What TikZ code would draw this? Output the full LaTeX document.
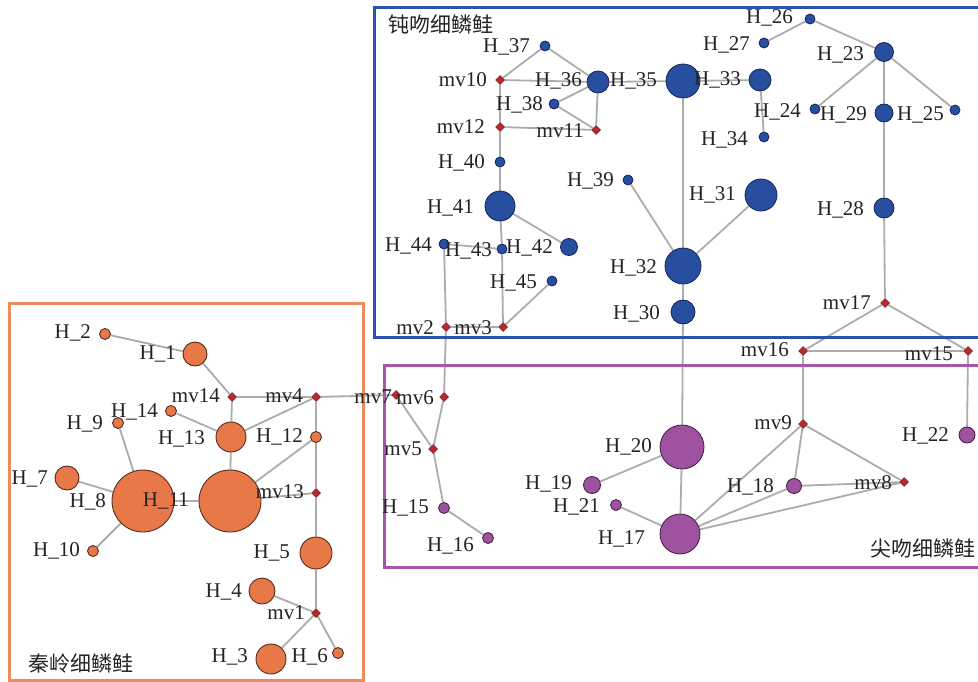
\documentclass[tikz,border=0pt]{standalone}
\usepackage{fontspec}
\setmainfont{Liberation Serif}
\newfontfamily\cjk{Noto Sans CJK SC}
\usetikzlibrary{shapes.geometric}
\pgfdeclarelayer{bg}
\pgfsetlayers{bg,main}
\definecolor{bfill}{RGB}{40,78,160}
\definecolor{bdraw}{RGB}{20,36,90}
\definecolor{ofill}{RGB}{232,120,72}
\definecolor{odraw}{RGB}{85,45,30}
\definecolor{pfill}{RGB}{158,82,160}
\definecolor{pdraw}{RGB}{60,30,60}
\definecolor{mfill}{RGB}{185,40,45}
\definecolor{mdraw}{RGB}{100,20,25}
\definecolor{edgec}{RGB}{172,172,172}
\definecolor{boxb}{RGB}{42,82,170}
\definecolor{boxo}{RGB}{236,140,92}
\definecolor{boxp}{RGB}{168,86,172}
\definecolor{txt}{RGB}{35,35,35}
\newcommand\hb[4]{\node[bnode,minimum size=#4pt] (#1) at (#2,#3) {};}
\newcommand\ho[4]{\node[onode,minimum size=#4pt] (#1) at (#2,#3) {};}
\newcommand\hp[4]{\node[pnode,minimum size=#4pt] (#1) at (#2,#3) {};}
\newcommand\mvn[3]{\node[mvnode] (#1) at (#2,#3) {};}
\newcommand\lab[4]{\node[lab] (#1) at (#2,#3) {#4};}
\begin{document}
\begin{tikzpicture}[x=1pt,y=-1pt,
  bnode/.style={circle,inner sep=0pt,fill=bfill,draw=bdraw,line width=0.8pt},
  onode/.style={circle,inner sep=0pt,fill=ofill,draw=odraw,line width=0.9pt},
  pnode/.style={circle,inner sep=0pt,fill=pfill,draw=pdraw,line width=0.8pt},
  mvnode/.style={diamond,inner sep=0pt,minimum size=9pt,fill=mfill,draw=mdraw,line width=0.5pt},
  lab/.style={anchor=east,inner sep=0pt,text=txt,font=\fontsize{21}{24}\selectfont},
  cjklab/.style={anchor=west,inner sep=0pt,text=txt,font=\cjk\fontsize{21}{24}\selectfont},
  edge/.style={draw=edgec,line width=1.8pt},
  boxline/.style={line width=3pt}]
\useasboundingbox (0,0) rectangle (978,682);
% boxes
\draw[boxline,draw=boxb] (981,8) -- (374,8) -- (374,337) -- (981,337);
\draw[boxline,draw=boxp] (981,365) -- (384,365) -- (384,567) -- (981,567);
\draw[boxline,draw=boxo] (9,303) rectangle (363,680);
% blue haplotypes
\hb{H26}{810}{19}{10}
\hb{H27}{764}{43}{10}
\hb{H23}{884}{52}{19}
\hb{H33}{760}{80}{22}
\hb{H35}{683}{81}{34}
\hb{H24}{815}{109}{10}
\hb{H29}{884}{113}{18}
\hb{H25}{955}{110}{10}
\hb{H34}{764}{137}{10}
\hb{H31}{761}{195}{32}
\hb{H28}{884}{208}{20}
\hb{H32}{683}{266}{36}
\hb{H30}{683}{312}{24}
\hb{H37}{545}{46}{10}
\hb{H36}{598}{82}{22}
\hb{H38}{554}{104}{10}
\hb{H40}{500}{162}{10}
\hb{H39}{628}{180}{10}
\hb{H41}{500}{206}{30}
\hb{H44}{444}{244}{10}
\hb{H43}{502}{249}{10}
\hb{H42}{569}{247}{17}
\hb{H45}{552}{281}{10}
% median vectors
\mvn{mv17}{885}{303}
\mvn{mv16}{803}{351}
\mvn{mv15}{968}{351}
\mvn{mv10}{500}{80}
\mvn{mv12}{500}{127}
\mvn{mv11}{596}{130}
\mvn{mv2}{446}{327}
\mvn{mv3}{503}{327}
\mvn{mv7}{396}{395}
\mvn{mv6}{444}{397}
\mvn{mv5}{433}{449}
\mvn{mv9}{803}{424}
\mvn{mv8}{904}{482}
\mvn{mv14}{232}{397}
\mvn{mv4}{316}{397}
\mvn{mv13}{316}{493}
\mvn{mv1}{316}{613}
% purple haplotypes
\hp{H15}{444}{508}{11}
\hp{H16}{488}{538}{11}
\hp{H19}{592}{485}{17}
\hp{H21}{616}{505}{11}
\hp{H20}{682}{447}{44}
\hp{H17}{680}{534}{40}
\hp{H18}{794}{486}{15}
\hp{H22}{967}{435}{16}
% orange haplotypes
\ho{H2}{105}{334}{11}
\ho{H1}{195}{354}{24}
\ho{H14}{171}{411}{11}
\ho{H9}{118}{423}{11}
\ho{H13}{231}{437}{30}
\ho{H12}{316}{437}{11}
\ho{H7}{67}{478}{24}
\ho{H8}{143}{501}{62}
\ho{H11}{230}{501}{62}
\ho{H10}{93}{551}{11}
\ho{H5}{316}{553}{32}
\ho{H4}{262}{591}{26}
\ho{H3}{271}{659}{30}
\ho{H6}{338}{653}{11}
% edges
\begin{pgfonlayer}{bg}
\path[edge] (H26) -- (H27) (H26) -- (H23) (H23) -- (H24) (H23) -- (H29) (H23) -- (H25)
  (H29) -- (H28) (H28) -- (mv17) (mv17) -- (mv16) (mv17) -- (mv15) (mv16) -- (mv15)
  (H33) -- (H35) (H33) -- (H34) (H35) -- (H36) (H35) -- (H32) (H32) -- (H31)
  (H32) -- (H39) (H32) -- (H30) (H30) -- (H20)
  (H37) -- (mv10) (H37) -- (H36) (mv10) -- (H36) (H36) -- (H38) (H36) -- (mv11)
  (H38) -- (mv11) (mv11) -- (mv12) (mv10) -- (mv12) (mv12) -- (H40) (H40) -- (H41)
  (H41) -- (H43) (H41) -- (H42) (H43) -- (H44) (H44) -- (mv2) (H43) -- (mv3)
  (mv3) -- (H45) (mv2) -- (mv3) (mv2) -- (mv6)
  (mv4) -- (mv7) (mv7) -- (mv5) (mv6) -- (mv5) (mv5) -- (H15) (H15) -- (H16)
  (mv16) -- (mv9) (mv15) -- (H22) (mv9) -- (H18) (mv9) -- (mv8) (mv9) -- (H17)
  (H18) -- (mv8) (H17) -- (H18) (H17) -- (mv8) (H20) -- (H17) (H20) -- (H19) (H17) -- (H21)
  (H2) -- (H1) (H1) -- (mv14) (mv14) -- (mv4) (mv14) -- (H13) (mv4) -- (H13)
  (mv4) -- (H12) (H14) -- (H13) (H13) -- (H11) (H12) -- (H11) (H12) -- (mv13)
  (mv13) -- (H11) (H9) -- (H8) (H7) -- (H8) (H8) -- (H11) (H8) -- (H10)
  (mv13) -- (H5) (H5) -- (mv1) (H4) -- (mv1) (mv1) -- (H3) (mv1) -- (H6);
\end{pgfonlayer}
% labels
\lab{lH26}{793}{18}{H\_26}
\lab{lH27}{750}{45}{H\_27}
\lab{lH23}{864}{55}{H\_23}
\lab{lH33}{741}{80}{H\_33}
\lab{lH35}{657}{81}{H\_35}
\lab{lH36}{582}{81}{H\_36}
\lab{lH37}{530}{47}{H\_37}
\lab{lmv10}{487}{80}{mv10}
\lab{lH38}{543}{105}{H\_38}
\lab{lmv12}{485}{127}{mv12}
\lab{lmv11}{584}{131}{mv11}
\lab{lH40}{485}{163}{H\_40}
\lab{lH39}{614}{181}{H\_39}
\lab{lH24}{801}{112}{H\_24}
\lab{lH29}{867}{115}{H\_29}
\lab{lH25}{944}{115}{H\_25}
\lab{lH34}{748}{140}{H\_34}
\lab{lH31}{736}{195}{H\_31}
\lab{lH28}{864}{210}{H\_28}
\lab{lH41}{474}{208}{H\_41}
\lab{lH44}{432}{246}{H\_44}
\lab{lH43}{492}{251}{H\_43}
\lab{lH42}{553}{248}{H\_42}
\lab{lH45}{537}{283}{H\_45}
\lab{lH32}{657}{268}{H\_32}
\lab{lH30}{660}{314}{H\_30}
\lab{lmv2}{434}{328}{mv2}
\lab{lmv3}{492}{328}{mv3}
\lab{lmv17}{871}{303}{mv17}
\lab{lmv16}{789}{350}{mv16}
\lab{lmv15}{953}{354}{mv15}
\lab{lmv7}{392}{397}{mv7}
\lab{lmv6}{434}{398}{mv6}
\lab{lmv5}{422}{449}{mv5}
\lab{lH15}{429}{508}{H\_15}
\lab{lH16}{474}{546}{H\_16}
\lab{lH20}{652}{447}{H\_20}
\lab{lH19}{572}{484}{H\_19}
\lab{lH21}{600}{507}{H\_21}
\lab{lH17}{645}{539}{H\_17}
\lab{lmv9}{792}{423}{mv9}
\lab{lH18}{774}{487}{H\_18}
\lab{lmv8}{892}{483}{mv8}
\lab{lH22}{949}{436}{H\_22}
\lab{lH2}{91}{333}{H\_2}
\lab{lH1}{176}{354}{H\_1}
\lab{lmv14}{220}{396}{mv14}
\lab{lmv4}{303}{396}{mv4}
\lab{lH14}{158}{412}{H\_14}
\lab{lH9}{103}{424}{H\_9}
\lab{lH13}{205}{439}{H\_13}
\lab{lH12}{303}{437}{H\_12}
\lab{lH7}{48}{479}{H\_7}
\lab{lmv13}{304}{492}{mv13}
\lab{lH8}{106}{502}{H\_8}
\lab{lH11}{189}{501}{H\_11}
\lab{lH10}{80}{551}{H\_10}
\lab{lH5}{290}{553}{H\_5}
\lab{lH4}{242}{592}{H\_4}
\lab{lmv1}{305}{613}{mv1}
\lab{lH3}{248}{657}{H\_3}
\lab{lH6}{328}{657}{H\_6}
% group titles
\node[cjklab] (tb) at (388,24) {钝吻细鳞鲑};
\node[cjklab] (to) at (28,663) {秦岭细鳞鲑};
\node[cjklab] (tp) at (870,548) {尖吻细鳞鲑};
\end{tikzpicture}
\end{document}
